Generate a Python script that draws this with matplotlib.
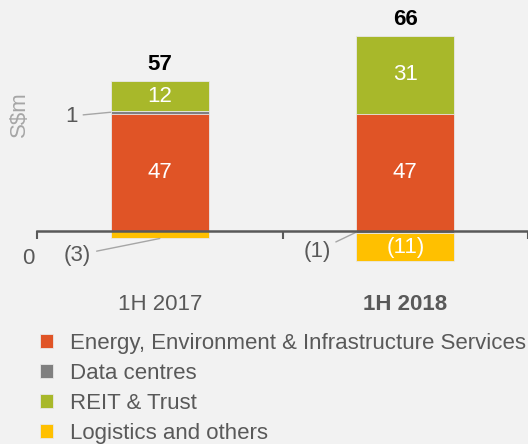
import matplotlib
matplotlib.use("Agg")
import matplotlib.pyplot as plt
import numpy as np

plt.rcParams["font.family"] = ["Liberation Sans", "DejaVu Sans"]

# data (S$m)
periods = ["1H 2017", "1H 2018"]
segments = ["Energy, Environment & Infrastructure Services", "Data centres",
            "REIT & Trust", "Logistics and others"]
energy = [47, 47]
data_centres = [1, -1]
reit = [12, 31]
logistics = [-3, -11]
totals = [57, 66]

COLORS = ["#E05426", "#808080", "#A8B82A", "#FFC000"]
BG = "#F2F2F2"
GREY = "#595959"

fig = plt.figure(figsize=(5.28, 4.44), dpi=100, facecolor=BG)
ax = fig.add_axes([37 / 528, 1 - 285 / 444, 491 / 528, 285 / 444])
ax.set_facecolor(BG)

x = np.arange(len(periods))
width = 0.40
series = [energy, data_centres, reit, logistics]
pos_base = np.zeros(len(periods))
neg_base = np.zeros(len(periods))
handles = []
for vals, color, name in zip(series, COLORS, segments):
    vals = np.array(vals, dtype=float)
    bottom = np.where(vals >= 0, pos_base, neg_base)
    h = ax.bar(x, vals, width, bottom=bottom, color=color, label=name,
               edgecolor="#E8E8E8", linewidth=0.6, zorder=2)
    handles.append(h)
    pos_base += np.clip(vals, 0, None)
    neg_base += np.clip(vals, None, 0)

# labels inside bars
for i in range(len(periods)):
    ax.text(x[i], energy[i] / 2, f"{energy[i]}", ha="center", va="center",
            color="white", fontsize=16, zorder=3)
    ax.text(x[i], energy[i] + max(data_centres[i], 0) + reit[i] / 2, f"{reit[i]}",
            ha="center", va="center", color="white", fontsize=16, zorder=3)
    ax.text(x[i], pos_base[i] + 2.3, f"{totals[i]}", ha="center", va="bottom",
            color="black", fontsize=16, fontweight="bold", zorder=3)

# (11) inside 2018 logistics
ax.text(x[1], min(data_centres[1], 0) + logistics[1] / 2, f"({-logistics[1]})",
        ha="center", va="center", color="white", fontsize=16, zorder=3)

# callouts for small values
line = dict(arrowstyle="-", color="#A6A6A6", lw=1, shrinkA=2, shrinkB=0)
ax.annotate(f"{data_centres[0]}", xy=(x[0] - width / 2, energy[0] + 0.5),
            xytext=(-0.36, 46), ha="center", va="center", color=GREY,
            fontsize=16, arrowprops=line)
ax.annotate(f"({-logistics[0]})", xy=(x[0], logistics[0]),
            xytext=(-0.335, -9.6), ha="center", va="center", color=GREY,
            fontsize=16, arrowprops=line, annotation_clip=False)
ax.annotate(f"({-data_centres[1]})", xy=(x[1] - width / 2, -0.5),
            xytext=(0.64, -8), ha="center", va="center", color=GREY,
            fontsize=16, arrowprops=line)
ax.text(-0.536, -10.8, "0", ha="center", va="center", color=GREY,
        fontsize=16, clip_on=False)

ax.set_xlim(-0.5, -0.5 + 491 / 249)
ax.set_ylim(-21.6, 92.4)

for side in ["top", "right", "left"]:
    ax.spines[side].set_visible(False)
ax.spines["bottom"].set_position(("data", 0))
ax.spines["bottom"].set_color(GREY)
ax.spines["bottom"].set_linewidth(1.8)
ax.spines["bottom"].set_zorder(4)
ax.set_yticks([])
ax.set_xticks(x)
ax.set_xticklabels(periods, fontsize=16, color=GREY)
ax.get_xticklabels()[1].set_fontweight("bold")
ax.tick_params(axis="x", which="major", length=0, pad=45)
ax.set_xticks([-0.5, 0.5, 1.5], minor=True)
ax.tick_params(axis="x", which="minor", length=6, width=1.5, color=GREY)

fig.text(19 / 528, 1 - 114 / 444, "S$m", rotation=90, ha="center", va="center",
         color="#A6A6A6", fontsize=16)

fig.legend(handles=handles, labels=segments, loc="upper left",
           bbox_to_anchor=(40 / 528, 1 - 333 / 444), frameon=False,
           fontsize=16, labelcolor=GREY, handlelength=0.6, handleheight=0.6,
           handletextpad=0.75, labelspacing=0.4, borderpad=0, borderaxespad=0)

fig.savefig("out.png", dpi=100, facecolor=BG)
